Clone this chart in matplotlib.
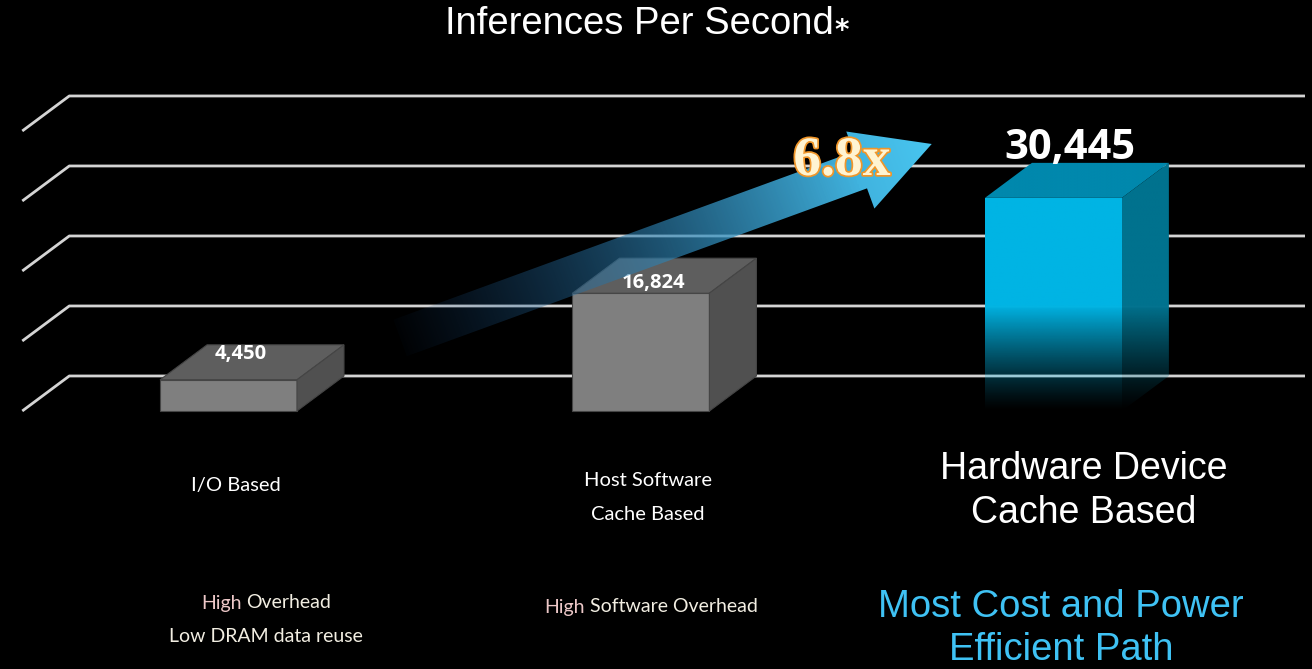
"""Inferences per second: I/O vs host-software cache vs hardware device cache.

Pseudo-3D bar chart on a black slide background.
Output: ./out.png (1312 x 669)
"""
import matplotlib
matplotlib.use("Agg")
import matplotlib.pyplot as plt
import matplotlib.patheffects as pe
import numpy as np
from matplotlib.colors import to_rgb
from matplotlib.patches import Polygon

CATEGORIES = [["I/O Based"], ["Host Software", "Cache Based"], ["Hardware Device", "Cache Based"]]
VALUES = [4450, 16824, 30445]
VALUE_LABELS = ["4,450", "16,824", "30,445"]
GRID_LEVELS = [0, 10000, 20000, 30000, 40000]
NOTES = [["High Overhead", "Low DRAM data reuse"], ["High Software Overhead"],
         ["Most Cost and Power", "Efficient Path"]]
SPEEDUP = "6.8x"
TITLE = "Inferences Per Second"

W, H = 1312, 669

# 3-D look: depth offset of the back plane (category units, value units)
BAR_W = 0.332
DX, DY = 0.114, 5000
X_LEFT, X_RIGHT = -0.50, 2.61
FADE_TOP = 15000      # highlighted bar fades to transparent below this value

GRAY = {"front": "#7f7f7f", "top": "#5e5e5e", "side": "#505050"}
BLUE = {"front": "#00b4e4", "top": "#0088ad", "side": "#00728e"}
CREAM = "#f2eee2"
PINK = "#edc8c8"
CYAN = "#3fc2f4"

fig = plt.figure(figsize=(W / 100, H / 100), dpi=100, facecolor="black")
ax = fig.add_axes([0, 0, 1, 1])
ax.set_xlim(-0.554, 2.627)
ax.set_ylim(-36860, 58710)
ax.axis("off")

# overlay in pixel units for the arrow and free text
ov = fig.add_axes([0, 0, 1, 1])
ov.set_xlim(0, W)
ov.set_ylim(0, H)
ov.axis("off")
ov.patch.set_alpha(0)

# gridlines with the slanted left wall
for lv in GRID_LEVELS:
    ax.plot([X_LEFT, X_LEFT + DX, X_RIGHT], [lv, lv + DY, lv + DY],
            color="#d4d4d4", lw=2, solid_capstyle="butt", zorder=1)


def faded_face(pts, color):
    patch = Polygon(pts, closed=True, facecolor="none", edgecolor="none")
    ax.add_patch(patch)
    xs, ys = zip(*pts)
    y0, y1 = min(ys), max(ys)
    yy = np.linspace(y0, y1, 300)
    alpha = np.clip(yy / FADE_TOP, 0, 1) ** 1.2
    img = np.zeros((300, 2, 4))
    img[..., :3] = to_rgb(color)
    img[..., 3] = alpha[:, None]
    im = ax.imshow(img, extent=[min(xs), max(xs), y0, y1], origin="lower",
                   aspect="auto", interpolation="bilinear", zorder=3)
    im.set_clip_path(patch)


for i, v in enumerate(VALUES):
    x0, x1 = i - BAR_W / 2, i + BAR_W / 2
    faces = {
        "front": [(x0, 0), (x1, 0), (x1, v), (x0, v)],
        "top": [(x0, v), (x0 + DX, v + DY), (x1 + DX, v + DY), (x1, v)],
        "side": [(x1, 0), (x1 + DX, DY), (x1 + DX, v + DY), (x1, v)],
    }
    highlight = i == len(VALUES) - 1
    for name, pts in faces.items():
        if highlight:
            faded_face(pts, BLUE[name])
        else:
            ax.add_patch(Polygon(pts, closed=True, facecolor=GRAY[name],
                                 edgecolor="#454545", lw=0.8, zorder=3))

# value labels on the bar tops
label_dy = [3700, 1500, 7000]
for i, (v, lab) in enumerate(zip(VALUES, VALUE_LABELS)):
    big = i == len(VALUES) - 1
    ax.text(i + 0.03 if not big else i + 0.04, v + label_dy[i], lab,
            ha="center", va="center", color="white", fontweight="bold",
            family="Open Sans", fontsize=30 if big else 14.5, zorder=6)

# growth arrow from bar 1 toward bar 3, gradient fill
tail = ax.transData.transform((0.416, 10430))
tip = ax.transData.transform((1.705, 38140))
L = np.linalg.norm(tip - tail)
u = (tip - tail) / L
n = np.array([-u[1], u[0]])
shaft_hw, head_hw, head_len = 19.5, 41, 76
base = tip - u * head_len
arrow_pts = np.array([tail + n * shaft_hw, base + n * shaft_hw, base + n * head_hw, tip,
                      base - n * head_hw, base - n * shaft_hw, tail - n * shaft_hw])
arrow = Polygon(arrow_pts, closed=True, facecolor="none", edgecolor="none")
ov.add_patch(arrow)
bx0, by0 = arrow_pts.min(axis=0)
bx1, by1 = arrow_pts.max(axis=0)
gx, gy = np.meshgrid(np.linspace(bx0, bx1, 400), np.linspace(by0, by1, 200))
t = np.clip(((gx - tail[0]) * u[0] + (gy - tail[1]) * u[1]) / L, 0, 1)
c0, c1 = np.array(to_rgb("#16447a")), np.array(to_rgb("#48c6f0"))
grad = np.zeros(gx.shape + (4,))
grad[..., :3] = c0 + (c1 - c0) * t[..., None]
grad[..., 3] = np.clip(0.02 + t * 1.15, 0, 1) ** 0.85
im = ov.imshow(grad, extent=[bx0, bx1, by0, by1], origin="lower", aspect="auto",
               interpolation="bilinear", zorder=4)
im.set_clip_path(arrow)

ov.text(842, H - 161, SPEEDUP, ha="center", va="center", fontsize=40,
        family="Liberation Serif", fontweight="bold", color="#fff4d2", zorder=7,
        path_effects=[pe.Stroke(linewidth=2.5, foreground="#f0962a"), pe.Normal()])

# title with a small trailing asterisk
ttl = ov.text(639, H - 24, TITLE, ha="center", va="center", fontsize=27.5,
              family="Liberation Sans", color="white")
renderer = fig.canvas.get_renderer()
ext = ttl.get_window_extent(renderer)
ov.text(ext.x1 + 1, H - 31, "*", ha="left", va="center", fontsize=20,
        family="DejaVu Sans", fontweight="bold", color="white")

# category labels
cat_x = [ax.transData.transform((i, 0))[0] for i in range(len(CATEGORIES))]
cat_y0 = [485, 480, 469]
cat_step = [35, 35, 44]
for i, lines in enumerate(CATEGORIES):
    big = i == len(CATEGORIES) - 1
    for k, line in enumerate(lines):
        ov.text(cat_x[i] + (30 if big else 7), H - (cat_y0[i] + k * cat_step[i]), line,
                ha="center", va="center", color="white",
                family="Liberation Sans" if big else "Lato",
                fontsize=27 if big else 14.5)

# notes under each category
note_x = [266, 651, 1061]
note_y0 = [603, 607, 607]
note_step = [33, 33, 43]
for i, lines in enumerate(NOTES):
    big = i == len(NOTES) - 1
    for k, line in enumerate(lines):
        y = H - (note_y0[i] + k * note_step[i])
        if big:
            ov.text(note_x[i], y, line, ha="center", va="center", color=CYAN,
                    family="Liberation Sans", fontsize=27.5)
            continue
        full = ov.text(note_x[i], y, line, ha="center", va="center", color=CREAM,
                       family="Lato", fontsize=14)
        if line.startswith("High "):
            e = full.get_window_extent(renderer)
            full.set_visible(False)
            ov.text(e.x0, y, "High", ha="left", va="center", color=PINK,
                    family="Lato", fontsize=14)
            ov.text(e.x1, y, line[5:], ha="right", va="center", color=CREAM,
                    family="Lato", fontsize=14)

fig.savefig("out.png", dpi=100, facecolor="black")
